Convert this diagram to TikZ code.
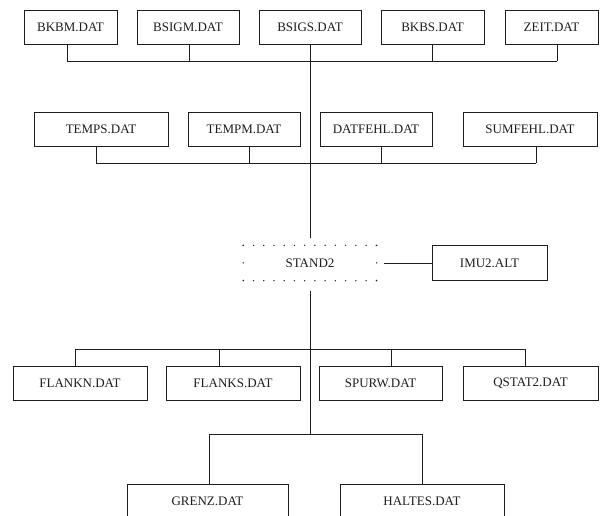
\documentclass[tikz,border=0pt]{standalone}
\usepackage{fontspec}
\setmainfont{Liberation Serif}
\usepackage{xcolor}
\usepackage{tikz}
\definecolor{ink}{HTML}{1E1E1E}
\definecolor{paper}{HTML}{FFFFFF}
\tikzset{
  fileBox/.style={draw=ink, line width=0.9pt, text=ink, fill=paper, inner sep=0pt,
    minimum height=34pt, font=\fontsize{13}{15}\selectfont},
  standBox/.style={text=ink, inner sep=0pt, minimum width=133pt, minimum height=35pt,
    font=\fontsize{13}{15}\selectfont},
  conn/.style={draw=ink, line width=0.8pt},
  dots/.style={draw=ink, line width=1.5pt, line cap=round, dash pattern=on 0pt off 10.23pt}
}

\begin{document}
\begin{tikzpicture}[x=1pt,y=-1pt]
\clip (0,0) rectangle (607,515);
\fill[paper] (0,0) rectangle (607,515);

% first row
\node[fileBox, minimum width=93pt] (bkbm) at (70.5,27) {BKBM.DAT};
\node[fileBox, minimum width=102pt] (bsigm) at (188,27) {BSIGM.DAT};
\node[fileBox, minimum width=102pt] (bsigs) at (310,27) {BSIGS.DAT};
\node[fileBox, minimum width=103pt] (bkbs) at (432.5,27) {BKBS.DAT};
\node[fileBox, minimum width=93pt] (zeit) at (551.5,27) {ZEIT.DAT};
\coordinate (busA1) at (67,61);
\coordinate (busA2) at (557,61);
\draw[conn] (busA1) -- (busA2);
\foreach \n/\x in {bkbm/67,bsigm/189,bkbs/432,zeit/557}
  \draw[conn] (\n.south -| \x,0) -- (\x,0 |- busA1);

% second row
\node[fileBox, minimum width=134pt] (temps) at (101,129) {TEMPS.DAT};
\node[fileBox, minimum width=112pt] (tempm) at (244,129) {TEMPM.DAT};
\node[fileBox, minimum width=112pt] (datfehl) at (376,129) {DATFEHL.DAT};
\node[fileBox, minimum width=134pt] (sumfehl) at (530,129) {SUMFEHL.DAT};
\coordinate (busB1) at (96,163);
\coordinate (busB2) at (536,163);
\draw[conn] (busB1) -- (busB2);
\foreach \n/\x in {temps/96,tempm/249,datfehl/381,sumfehl/536}
  \draw[conn] (\n.south -| \x,0) -- (\x,0 |- busB1);

% STAND2
\node[standBox] (stand) at (310,263) {STAND2};
\draw[dots] (stand.north west) -- (stand.north east);
\draw[dots] (stand.south west) -- (stand.south east);
\draw[dots, dash pattern=on 0pt off 17.5pt] (stand.north west) -- (stand.south west);
\draw[dots, dash pattern=on 0pt off 17.5pt] (stand.north east) -- (stand.south east);
\node[fileBox, minimum width=115pt, minimum height=35pt] (imu) at (489.5,263) {IMU2.ALT};
\draw[conn, shorten >=7pt] (bsigs.south) -- (stand.north);
\draw[conn, shorten <=7pt] (stand.east) -- (imu.west);
\coordinate (hub) at (310,434);
\draw[conn, shorten <=10pt] (stand.south) -- (hub);

% third row
\node[fileBox, minimum width=134pt] (flankn) at (80,383) {FLANKN.DAT};
\node[fileBox, minimum width=134pt] (flanks) at (233,383) {FLANKS.DAT};
\node[fileBox, minimum width=123pt] (spurw) at (380.5,383) {SPURW.DAT};
\node[fileBox, minimum width=135pt] (qstat) at (530.5,383) {QSTAT2.DAT};
\coordinate (busC1) at (75,349);
\coordinate (busC2) at (525,349);
\draw[conn] (busC1) -- (busC2);
\foreach \n/\x in {flankn/75,flanks/219,spurw/391,qstat/525}
  \draw[conn] (\n.north -| \x,0) -- (\x,0 |- busC1);

% fourth row
\node[fileBox, minimum width=161pt, minimum height=35pt] (grenz) at (207.5,501.5) {GRENZ.DAT};
\node[fileBox, minimum width=164pt, minimum height=35pt] (haltes) at (422,501.5) {HALTES.DAT};
\coordinate (busD1) at (209,434);
\coordinate (busD2) at (422,434);
\draw[conn] (busD1) -- (busD2);
\draw[conn] (grenz.north -| busD1) -- (busD1);
\draw[conn] (haltes.north) -- (busD2);
\end{tikzpicture}
\end{document}
